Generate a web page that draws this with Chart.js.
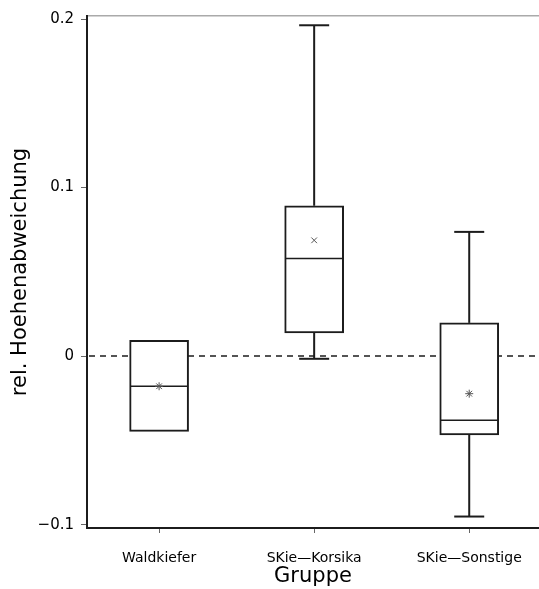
<!DOCTYPE html>
<html lang="de">
<head>
<meta charset="UTF-8">
<title>rel. Hoehenabweichung nach Gruppe</title>
<script src="https://cdn.jsdelivr.net/npm/chart.js@4"></script>
<style>
  html, body { margin: 0; padding: 0; background: #fff; }
  #boxChart { display: block; }
</style>
</head>
<body>
<canvas id="boxChart" width="539" height="589"></canvas>
<script>
// values (null = no whisker drawn)
const groups = ['Waldkiefer', 'SKie\u2014Korsika', 'SKie\u2014Sonstige'];
const whiskerLow = [null, -0.0016, -0.0952];
const q1 = [-0.0447, 0.0138, -0.0468];
const median = [-0.0179, 0.0579, -0.0380];
const q3 = [0.0093, 0.0892, 0.0197];
const whiskerHigh = [null, 0.1963, 0.0737];
const means = [-0.0179, 0.0687, -0.0223];
const yTicks = [-0.1, 0, 0.1, 0.2];
const refLine = 0;

const ink = '#1c1c1c';
const pos = groups.map((g, i) => i + 1);

// vertical whiskers, one small line dataset each
const whiskerSets = [];
pos.forEach((x, i) => {
    const common = { type: 'line', borderColor: ink, borderWidth: 2, pointRadius: 0, fill: false, order: 5 };
    whiskerSets.push({ ...common, data: [{ x, y: q3[i] }, { x, y: whiskerHigh[i] }] });
    whiskerSets.push({ ...common, data: [{ x, y: q1[i] }, { x, y: whiskerLow[i] }] });
});

// dashed reference line at zero, drawn behind the boxes
const zeroLine = {
    id: 'zeroLine',
    beforeDatasetsDraw(chart) {
        const { ctx, chartArea: { left, right }, scales: { y } } = chart;
        const py = y.getPixelForValue(refLine);
        ctx.save();
        ctx.strokeStyle = ink;
        ctx.lineWidth = 1.5;
        ctx.setLineDash([6, 5]);
        ctx.beginPath();
        ctx.moveTo(left + 2, py);
        ctx.lineTo(right, py);
        ctx.stroke();
        ctx.restore();
    }
};

const fontFamily = 'DejaVu Sans';

new Chart(document.getElementById('boxChart'), {
    type: 'bar',
    data: {
        datasets: [
            {
                label: 'Box',
                data: pos.map((x, i) => ({ x, y: [q1[i], q3[i]] })),
                backgroundColor: '#ffffff',
                borderColor: ink,
                borderWidth: 2,
                borderSkipped: false,
                barThickness: 59,
                order: 4
            },
            ...whiskerSets,
            {
                type: 'scatter',
                label: 'Median',
                data: pos.map((x, i) => ({ x, y: median[i] })),
                pointStyle: 'line',
                pointRadius: 29,
                borderColor: ink,
                borderWidth: 1.5,
                order: 3
            },
            {
                type: 'scatter',
                label: 'Whisker caps',
                data: pos.map((x, i) => ({ x, y: whiskerHigh[i] }))
                    .concat(pos.map((x, i) => ({ x, y: whiskerLow[i] }))),
                pointStyle: 'line',
                pointRadius: 15,
                borderColor: ink,
                borderWidth: 2,
                order: 3
            },
            {
                type: 'scatter',
                label: 'Mittelwert',
                data: pos.map((x, i) => ({ x, y: means[i] })),
                pointStyle: ['star', 'crossRot', 'star'],
                pointRadius: 4,
                borderColor: '#555',
                borderWidth: 1,
                order: 1
            }
        ]
    },
    options: {
        responsive: false,
        animation: false,
        events: [],
        devicePixelRatio: 1,
        // the long "line" points would otherwise push the frame inwards
        layout: { autoPadding: false, padding: { top: 13, right: 0, bottom: 0, left: 0 } },
        plugins: {
            legend: { display: false },
            tooltip: { enabled: false }
        },
        scales: {
            x: {
                type: 'linear',
                position: 'bottom',
                min: 0.535,
                max: 3.45,
                offset: false,
                afterBuildTicks: s => { s.ticks = pos.map(v => ({ value: v })); },
                afterFit: s => { s.height = 61; },
                grid: { display: true, drawOnChartArea: false, drawTicks: true, tickLength: 5, tickColor: '#666', tickWidth: 1, offset: false },
                border: { display: true, color: ink, width: 2 },
                ticks: {
                    autoSkip: false,
                    maxRotation: 0,
                    padding: 17,
                    color: '#000',
                    font: { family: fontFamily, size: 14 },
                    callback: v => groups[v - 1] ?? ''
                },
                title: {
                    display: true,
                    text: 'Gruppe',
                    color: '#000',
                    font: { family: fontFamily, size: 21 },
                    padding: { top: 0, bottom: 0 }
                }
            },
            xTop: {
                type: 'linear',
                position: 'top',
                min: 0.535,
                max: 3.45,
                grid: { display: false },
                ticks: { display: false },
                border: { display: true, color: '#aaaaaa', width: 1.5 },
                afterFit: s => { s.height = 0; }
            },
            y: {
                min: -0.102,
                max: 0.2018,
                afterBuildTicks: s => { s.ticks = yTicks.map(v => ({ value: v })); },
                afterFit: s => { s.width = 87; },
                grid: { display: true, drawOnChartArea: false, drawTicks: true, tickLength: 6, tickColor: '#666', tickWidth: 1 },
                border: { display: true, color: ink, width: 2 },
                ticks: {
                    padding: 7,
                    color: '#000',
                    font: { family: fontFamily, size: 15 },
                    callback: v => v === 0 ? '0' : (v < 0 ? '\u2212' + Math.abs(v) : String(v))
                },
                title: {
                    display: true,
                    text: 'rel. Hoehenabweichung',
                    color: '#000',
                    font: { family: fontFamily, size: 21 },
                    padding: { top: 8, bottom: 0 }
                }
            }
        }
    },
    plugins: [zeroLine]
});
</script>
</body>
</html>
